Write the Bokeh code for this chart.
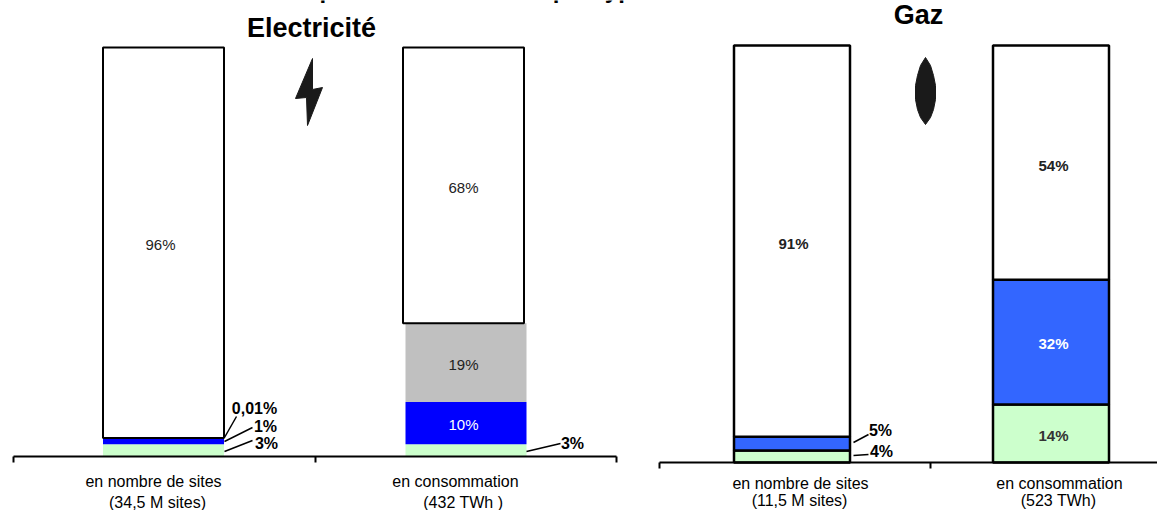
from bokeh.plotting import figure
from bokeh.layouts import row
from bokeh.models import LinearAxis, FixedTicker, Range1d
from bokeh.core.properties import value
from bokeh.embed import file_html
from bokeh.resources import INLINE

FONT = "Liberation Sans"

# ---------- data ----------
elec_title = "Electricité"
gaz_title = "Gaz"
top_title = "Répartition des clients par type"
elec_categories = ["en nombre de sites", "en consommation"]
elec_sub = ["(34,5 M sites)", "(432  TWh )"]
gaz_categories = ["en nombre de sites", "en consommation"]
gaz_sub = ["(11,5 M sites)", "(523 TWh)"]

# heights (bottom to top)
elec_sites = [2.9, 1.5, 0.01, 95.59]
elec_conso = [2.9, 10.3, 19.3, 67.5]
gaz_sites = [2.9, 3.3, 93.8]
gaz_conso = [13.9, 29.9, 56.2]

# printed labels
elec_sites_labels = ["3%", "1%", "0,01%", "96%"]
elec_conso_labels = ["3%", "10%", "19%", "68%"]
gaz_sites_labels = ["4%", "5%", "91%"]
gaz_conso_labels = ["14%", "32%", "54%"]

elec_colors = ["#CCFFCC", "#0000FF", "#C0C0C0", "#FFFFFF"]
gaz_colors = ["#CCFFCC", "#3366FF", "#FFFFFF"]


def make_panel(left, right, x0, ux, y0, uy, axis_end, ticks):
    """Figure covering image pixels left..right; data x=0 at px x0, y=0 at px y0."""
    p = figure(width=right - left, height=510, output_backend="svg", toolbar_location=None,
               x_axis_location=None, y_axis_location=None, min_border=0,
               x_range=Range1d((left - x0) / ux, (right - x0) / ux),
               y_range=Range1d((y0 - 510) / uy, y0 / uy))
    p.outline_line_color = None
    p.background_fill_color = None
    p.border_fill_color = None
    p.grid.visible = False
    ax = LinearAxis(ticker=FixedTicker(ticks=ticks), fixed_location=0,
                    major_label_overrides={t: "" for t in ticks},
                    axis_line_color="black", axis_line_width=2,
                    major_tick_line_color="black", major_tick_line_width=2,
                    major_tick_in=0, major_tick_out=6, minor_tick_line_color=None,
                    bounds=(0, axis_end))
    p.add_layout(ax, "below")
    fx = lambda v: (v - x0) / ux
    fy = lambda v: (y0 - v) / uy
    return p, fx, fy


def stack(p, x, width, vals, colors, line_color=None, line_width=2):
    b = 0
    for v, c in zip(vals, colors):
        p.vbar(x=[x], width=width, bottom=[b], top=[b + v], fill_color=c,
               line_color=line_color, line_width=line_width)
        b += v


def txt(p, x, y, s, size, bold=False, color="black", align="center", baseline="middle"):
    p.text(x=[x], y=[y], text=[s], text_font=value(FONT), text_font_size=size,
           text_font_style="bold" if bold else "normal", text_color=color,
           text_align=align, text_baseline=baseline)


def lead(p, fx, fy, a, b):
    p.line([fx(a[0]), fx(b[0])], [fy(a[1]), fy(b[1])], line_color="black", line_width=1.5)


# ---------- left panel: electricity ----------
p1, fx, fy = make_panel(0, 640, 13, 301.5, 455.5, 4.085, 2, [0, 1, 2])
w1 = 121 / 301.5
xa, xb = fx(163), fx(465.5)
stack(p1, xa, w1, elec_sites[:3], elec_colors[:3])
p1.vbar(x=[xa], width=w1, bottom=[sum(elec_sites[:3])], top=[sum(elec_sites)],
        fill_color="white", line_color="black", line_width=2)
stack(p1, xb, w1, elec_conso[:3], elec_colors[:3])
p1.vbar(x=[fx(463)], width=w1, bottom=[sum(elec_conso[:3])], top=[sum(elec_conso)],
        fill_color="white", line_color="black", line_width=2)

txt(p1, fx(160), fy(244), elec_sites_labels[3], "15px", color="#222222")
txt(p1, fx(463), fy(187), elec_conso_labels[3], "15px", color="#222222")
txt(p1, fx(463), fy(364), elec_conso_labels[2], "15px", color="#222222")
txt(p1, fx(463), fy(424), elec_conso_labels[1], "15px", color="white")
txt(p1, fx(254), fy(408), elec_sites_labels[2], "16px", bold=True)
txt(p1, fx(265), fy(426), elec_sites_labels[1], "16px", bold=True)
txt(p1, fx(266), fy(443), elec_sites_labels[0], "16px", bold=True)
txt(p1, fx(572), fy(443), elec_conso_labels[0], "16px", bold=True)
lead(p1, fx, fy, (224, 437), (236, 416))
lead(p1, fx, fy, (224, 441), (252, 427))
lead(p1, fx, fy, (224, 451), (252, 440))
lead(p1, fx, fy, (526, 451), (560, 443))

txt(p1, fx(153), fy(481), elec_categories[0], "16px")
txt(p1, fx(157), fy(502), elec_sub[0], "16px")
txt(p1, fx(455), fy(481), elec_categories[1], "16px")
txt(p1, fx(465), fy(502), elec_sub[1], "16px")

txt(p1, fx(311), fy(27), elec_title, "27px", bold=True)
txt(p1, fx(467), fy(-11), top_title, "24px", bold=True, baseline="alphabetic")

bolt_x = [312, 295, 306, 307, 322, 312]
bolt_y = [58, 98, 97, 125, 87, 89]
p1.patch([fx(v) for v in bolt_x], [fy(v) for v in bolt_y], fill_color="#1a1a1a", line_color="#1a1a1a", line_width=1)

# ---------- right panel: gas ----------
p2, gx, gy = make_panel(640, 1157, 659, 271, 462, 4.17, 498 / 271, [0, 1])
w2 = 116 / 271
xc, xd = gx(791.5), gx(1050.5)
stack(p2, xc, w2, gaz_sites, gaz_colors, line_color="black", line_width=2.5)
stack(p2, xd, w2, gaz_conso, gaz_colors, line_color="black", line_width=2.5)

txt(p2, gx(793), gy(243), gaz_sites_labels[2], "15px", bold=True, color="#222222")
txt(p2, gx(1053), gy(165), gaz_conso_labels[2], "15px", bold=True, color="#222222")
txt(p2, gx(1053), gy(343), gaz_conso_labels[1], "15px", bold=True, color="white")
txt(p2, gx(1053), gy(435), gaz_conso_labels[0], "15px", bold=True, color="#333333")
txt(p2, gx(880), gy(430), gaz_sites_labels[1], "16px", bold=True)
txt(p2, gx(881), gy(451), gaz_sites_labels[0], "16px", bold=True)
lead(p2, gx, gy, (853, 442), (868, 434))
lead(p2, gx, gy, (853, 455), (868, 454))

txt(p2, gx(800), gy(483), gaz_categories[0], "16px")
txt(p2, gx(799), gy(500), gaz_sub[0], "16px")
txt(p2, gx(1059), gy(483), gaz_categories[1], "16px")
txt(p2, gx(1058), gy(500), gaz_sub[1], "16px")

txt(p2, gx(918), gy(14), gaz_title, "27px", bold=True)

flame_x = [925, 920, 917, 915, 915, 917, 920, 925, 930, 933, 935, 935, 933, 930]
flame_y = [57, 65, 75, 85, 99, 109, 117, 124, 117, 109, 99, 85, 75, 65]
p2.patch([gx(v) for v in flame_x], [gy(v) for v in flame_y], fill_color="#1a1a1a", line_color="#1a1a1a", line_width=1)

layout = row(p1, p2, spacing=0, margin=(0, 0, 0, 0))
open("out.html", "w").write(file_html(layout, INLINE))
